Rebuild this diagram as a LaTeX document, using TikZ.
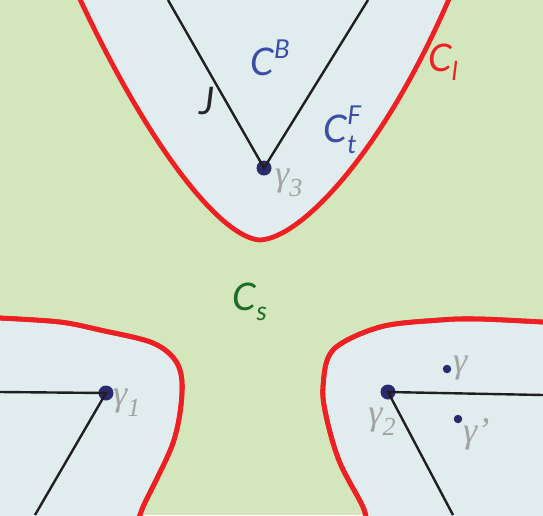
\documentclass[tikz,border=0pt]{standalone}
\usepackage{fontspec}
\newfontfamily\labfont{Lato}
\newfontfamily\serfont{Liberation Serif}
\definecolor{bggreen}{HTML}{D4E6BC}
\definecolor{regblue}{HTML}{E0ECEE}
\definecolor{redline}{HTML}{EE2024}
\definecolor{labblue}{HTML}{3B4EA6}
\definecolor{dotblue}{HTML}{2A2A6E}
\definecolor{labgray}{HTML}{A3A3A3}
\definecolor{labgreen}{HTML}{1F6B2A}
\tikzset{
  boundary/.style={draw=redline, line width=4.8pt, fill=regblue},
  redcurve/.style={draw=redline, line width=4.8pt},
  ray/.style={draw=black!88, line width=2.4pt},
  bigdot/.style={circle, fill=dotblue, inner sep=0pt, minimum size=15pt},
  smalldot/.style={circle, fill=dotblue, inner sep=0pt, minimum size=8.5pt},
  sanslab/.style={inner sep=0pt, font=\labfont\itshape\fontsize{38}{38}\selectfont},
  gamlab/.style={inner sep=0pt, text=labgray, font=\serfont\itshape\fontsize{36}{36}\selectfont},
}
\begin{document}
\begin{tikzpicture}[x=1pt,y=-1pt]
\useasboundingbox (0,0) rectangle (543,515);
\clip (0,0) rectangle (543,515);
\fill[bggreen] (0,0) rectangle (543,515);
% top region
\path[boundary] (78,-5) .. controls (150,150) and (222,238) .. (260,240)
  .. controls (302,238) and (385,150) .. (452,-8);
% bottom-left region
\path[boundary] plot[smooth, tension=0.55] coordinates {(-10,318) (0,318) (60,322) (100,330) (153,343) (177,363) (182,393) (173,443) (143,507) (138,525)} -- (-10,525) -- cycle;
\draw[redcurve] plot[smooth, tension=0.55] coordinates {(-10,318) (0,318) (60,322) (100,330) (153,343) (177,363) (182,393) (173,443) (143,507) (138,525)};
% bottom-right region
\path[boundary] plot[smooth, tension=0.55] coordinates {(553,322) (543,322) (480,319) (440,320) (380,327) (333,350) (323,387) (327,420) (340,463) (363,507) (367,525)} -- (553,525) -- cycle;
\draw[redcurve] plot[smooth, tension=0.55] coordinates {(553,322) (543,322) (480,319) (440,320) (380,327) (333,350) (323,387) (327,420) (340,463) (363,507) (367,525)};
% top region rays
\coordinate (t1) at (168,0);
\coordinate (t2) at (368,0);
\node[bigdot] (g3) at (264,168) {};
\draw[ray] (t1) -- (g3.center) -- (t2);
% bottom-left rays
\coordinate (l1) at (0,392);
\coordinate (l2) at (35,515);
\node[bigdot] (g1) at (106,393) {};
\draw[ray] (l1) -- (g1.center) -- (l2);
% bottom-right rays
\coordinate (r1) at (543,395);
\coordinate (r2) at (453,515);
\node[bigdot] (g2) at (388,392) {};
\draw[ray] (r1) -- (g2.center) -- (r2);
\node[smalldot] (g) at (447,369) {};
\node[smalldot] (gp) at (458,419) {};
% labels
\node[sanslab, text=labblue] (cb) at (270,58) {C\raisebox{0.45em}{\fontsize{26}{26}\selectfont B}};
\node[sanslab, text=labblue] (ctf) at (340,130) {C\rlap{\raisebox{0.45em}{\fontsize{26}{26}\selectfont F}}\raisebox{-0.3em}{\fontsize{26}{26}\selectfont t}};
\node[sanslab, text=black!85] (j) at (207,101) {J};
\node[sanslab, text=redline] (ci) at (443,62) {C\raisebox{-0.25em}{\fontsize{26}{26}\selectfont l}};
\node[sanslab, text=labgreen] (cs) at (250,302) {C\raisebox{-0.25em}{\fontsize{26}{26}\selectfont s}};
\node[gamlab, anchor=west] (lg3) at (275,183) {γ\raisebox{-0.3em}{\fontsize{26}{26}\selectfont 3}};
\node[gamlab, anchor=west] (lg1) at (113,403) {γ\raisebox{-0.3em}{\fontsize{26}{26}\selectfont 1}};
\node[gamlab] (lg2) at (382,422) {γ\raisebox{-0.3em}{\fontsize{26}{26}\selectfont 2}};
\node[gamlab, anchor=west] (lg) at (453,368) {γ};
\node[gamlab, anchor=west] (lgp) at (463,434) {γ’};
\end{tikzpicture}
\end{document}
